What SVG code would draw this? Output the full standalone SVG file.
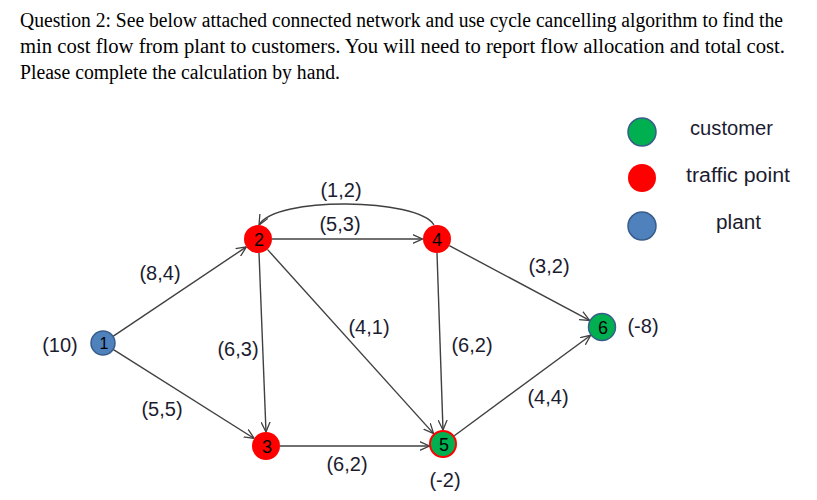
<svg xmlns="http://www.w3.org/2000/svg" width="817" height="500" viewBox="0 0 817 500">
<defs>
<marker id="arr" viewBox="0 0 10 10" refX="10" refY="5" markerWidth="10" markerHeight="10" markerUnits="userSpaceOnUse" orient="auto">
<path d="M0,0.5 L10,5 L0,9.5" fill="none" stroke="#404040" stroke-width="1.3"/>
</marker>
</defs>
<style>
.title{font-family:"Liberation Serif","Times New Roman",serif;font-size:20px;fill:#000}
.lbl{font-family:"Liberation Sans",Arial,sans-serif;font-size:20px;fill:#1c1c30;text-anchor:middle}
.num{font-family:"Liberation Sans",Arial,sans-serif;font-size:18px;fill:#000;text-anchor:middle}
.leg{font-family:"Liberation Sans",Arial,sans-serif;font-size:20px;fill:#1c1c30}
.edge{fill:none;stroke:#404040;stroke-width:1.4;marker-end:url(#arr)}
.red{fill:#ff0000}
.green{fill:#00b050}
.blue{fill:#4f81bd}
</style>
<rect width="817" height="500" fill="#fff"/>
<g id="title">
<text class="title" x="20" y="27" textLength="763" lengthAdjust="spacingAndGlyphs">Question 2: See below attached connected network and use cycle cancelling algorithm to find the</text>
<text class="title" x="20" y="53" textLength="765" lengthAdjust="spacingAndGlyphs">min cost flow from plant to customers. You will need to report flow allocation and total cost.</text>
<text class="title" x="20" y="79" textLength="320" lengthAdjust="spacingAndGlyphs">Please complete the calculation by hand.</text>
</g>
<g id="connectors">
<line class="edge" x1="113" y1="336.3" x2="246.4" y2="246.8"/>
<line class="edge" x1="113.1" y1="349.4" x2="254.2" y2="438.5"/>
<line class="edge" x1="259" y1="253" x2="266" y2="432"/>
<line class="edge" x1="267.4" y1="249.4" x2="433.6" y2="433.6"/>
<line class="edge" x1="272" y1="239" x2="422.5" y2="239"/>
<path class="edge" d="M434,225 C418,198 275,196 259,225"/>
<line class="edge" x1="437" y1="253" x2="443" y2="430"/>
<line class="edge" x1="449.3" y1="245.6" x2="589.6" y2="320.4"/>
<line class="edge" x1="454.3" y1="435.7" x2="590.7" y2="335.3"/>
<line class="edge" x1="280" y1="446" x2="429.5" y2="446"/>
</g>
<g id="edge-labels">
<text class="lbl" x="160" y="280">(8,4)</text>
<text class="lbl" x="162" y="416">(5,5)</text>
<text class="lbl" x="238" y="356">(6,3)</text>
<text class="lbl" x="341" y="197">(1,2)</text>
<text class="lbl" x="340" y="231">(5,3)</text>
<text class="lbl" x="369" y="334">(4,1)</text>
<text class="lbl" x="472" y="352">(6,2)</text>
<text class="lbl" x="549" y="273">(3,2)</text>
<text class="lbl" x="548" y="404">(4,4)</text>
<text class="lbl" x="347" y="471">(6,2)</text>
</g>
<g id="node1">
<circle class="blue" cx="103" cy="343" r="12" stroke="#385d8a" stroke-width="1.5"/>
<text class="num" x="104" y="349" style="font-size:16px">1</text>
<text class="lbl" x="60" y="352">(10)</text>
</g>
<g id="node2">
<circle class="red" cx="258" cy="239" r="14"/>
<text class="num" x="259" y="245.5">2</text>
</g>
<g id="node3">
<circle class="red" cx="266" cy="446" r="14"/>
<text class="num" x="267" y="452.5">3</text>
</g>
<g id="node4">
<circle class="red" cx="437" cy="239" r="14"/>
<text class="num" x="437" y="245.5">4</text>
</g>
<g id="node5">
<circle class="green" cx="443" cy="444" r="13" stroke="#ff0000" stroke-width="2"/>
<text class="num" x="444" y="450.5">5</text>
<text class="lbl" x="445" y="487">(-2)</text>
</g>
<g id="node6">
<circle class="green" cx="602" cy="327" r="13.5" stroke="#385d8a" stroke-width="1.5"/>
<text class="num" x="603" y="333.5">6</text>
<text class="lbl" x="643" y="333">(-8)</text>
</g>
<g id="legend">
<circle class="green" cx="642" cy="132" r="14" stroke="#385d8a" stroke-width="1.5"/>
<circle class="red" cx="642" cy="178" r="14"/>
<circle class="blue" cx="642" cy="226" r="14" stroke="#385d8a" stroke-width="1.5"/>
<text class="leg" x="690" y="135" textLength="83" lengthAdjust="spacingAndGlyphs">customer</text>
<text class="leg" x="686" y="182" textLength="104" lengthAdjust="spacingAndGlyphs">traffic point</text>
<text class="leg" x="716" y="229" textLength="45" lengthAdjust="spacingAndGlyphs">plant</text>
</g>
</svg>
